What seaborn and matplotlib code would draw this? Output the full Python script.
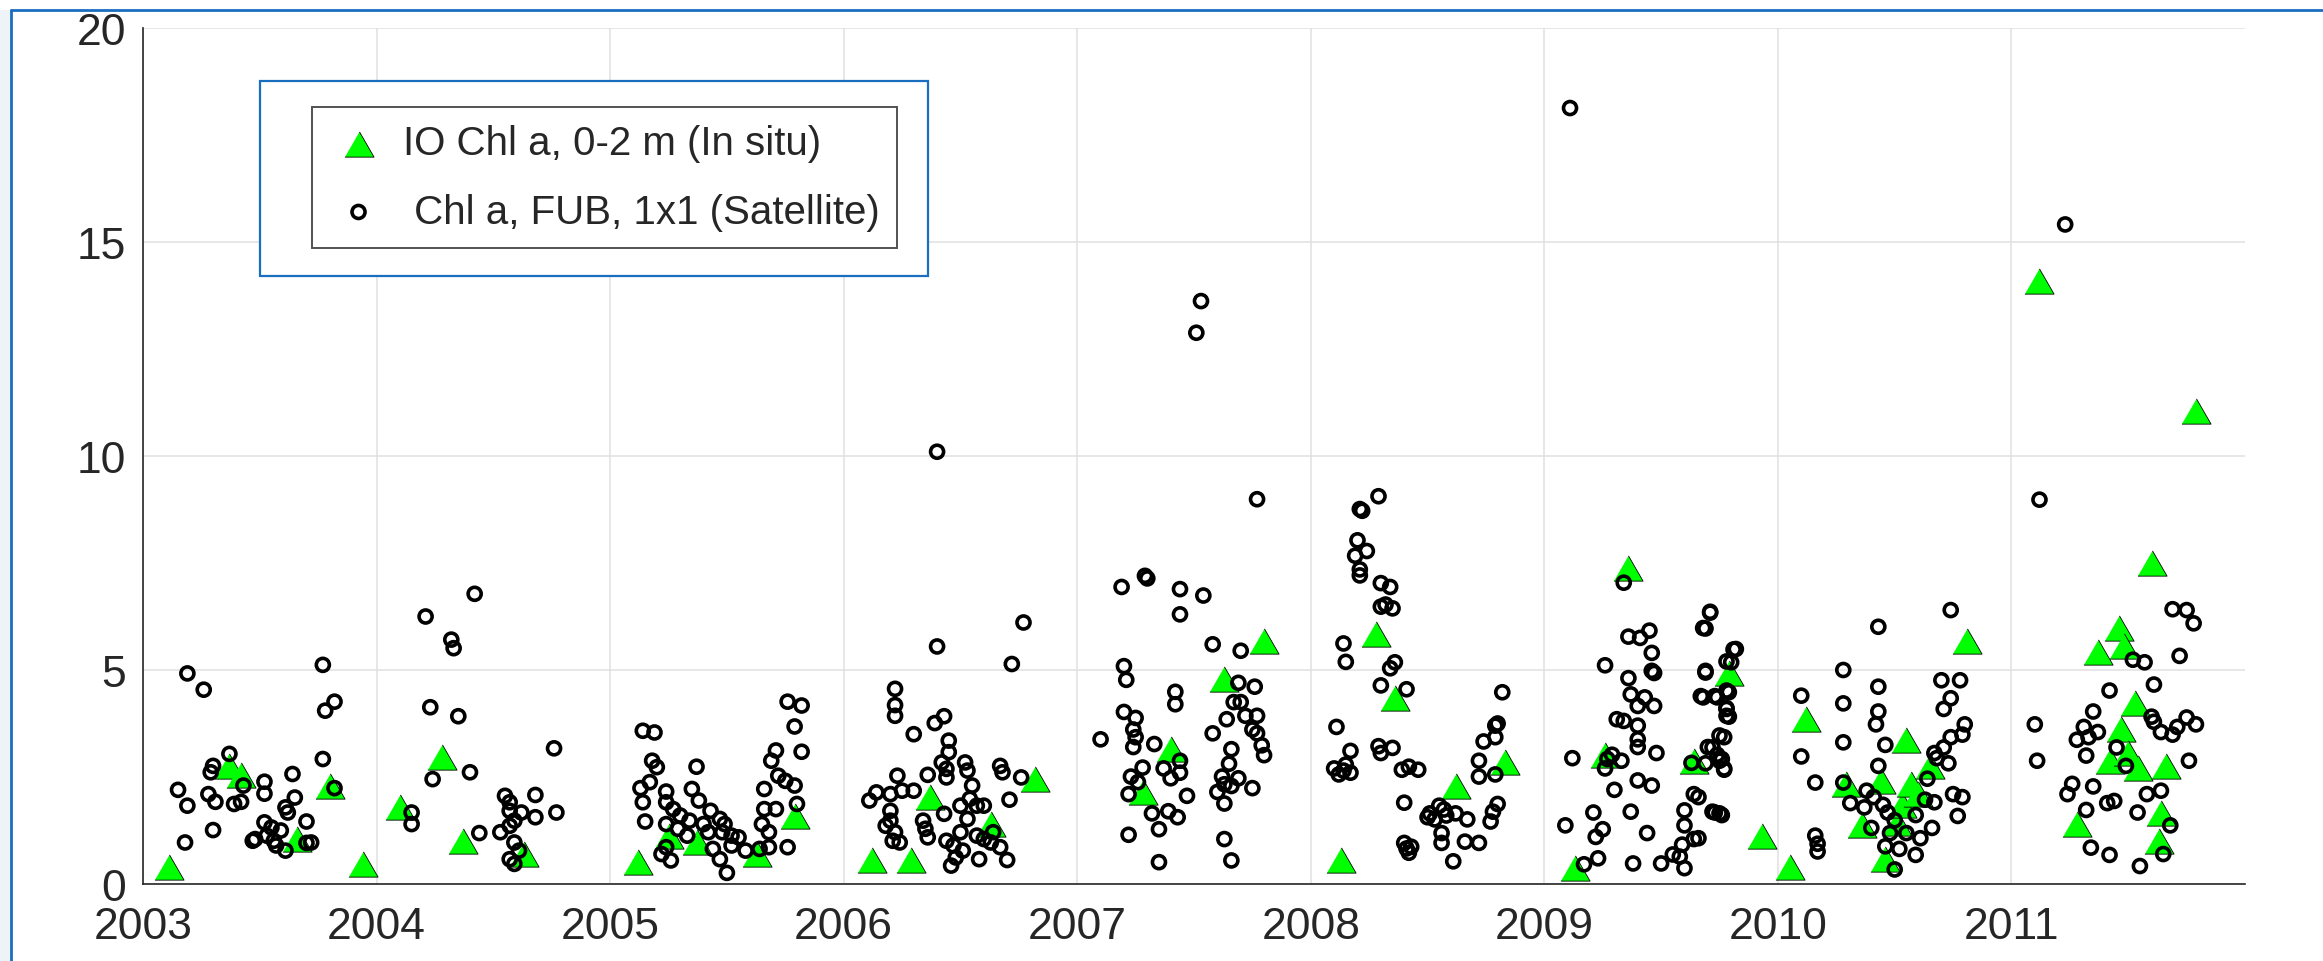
import pandas as pd
import seaborn as sns
import matplotlib.pyplot as plt
from matplotlib.patches import Rectangle
from matplotlib.lines import Line2D

# ---- datos: Chl a in situ (triangulos) ----
insitu_year = [2003.11, 2003.37, 2003.42, 2003.66, 2003.80, 2003.94,
               2004.10, 2004.28, 2004.37, 2004.63,
               2005.12, 2005.25, 2005.37, 2005.63, 2005.79,
               2006.12, 2006.29, 2006.37, 2006.63, 2006.82,
               2007.28, 2007.40, 2007.63, 2007.80,
               2008.13, 2008.28, 2008.36, 2008.62, 2008.83,
               2009.13, 2009.26, 2009.36, 2009.64, 2009.79, 2009.93,
               2010.05, 2010.12, 2010.29, 2010.36, 2010.44, 2010.46, 2010.51,
               2010.53, 2010.55, 2010.57, 2010.60, 2010.65, 2010.81,
               2011.12, 2011.28, 2011.37, 2011.42, 2011.46, 2011.47, 2011.48,
               2011.50, 2011.53, 2011.54, 2011.60, 2011.63, 2011.64, 2011.66,
               2011.79]
insitu_chl = [0.39, 2.76, 2.55, 1.05, 2.30, 0.47,
              1.79, 2.96, 1.00, 0.70,
              0.51, 1.13, 0.97, 0.70, 1.60,
              0.55, 0.55, 2.04, 1.40, 2.45,
              2.15, 3.15, 4.79, 5.68,
              0.55, 5.84, 4.34, 2.29, 2.85,
              0.37, 3.01, 7.39, 2.88, 4.93, 1.13,
              0.40, 3.85, 2.34, 1.37, 2.40, 0.58, 1.43,
              1.85, 3.37, 2.34, 2.10, 2.76, 5.67,
              14.09, 1.41, 5.43, 2.88, 5.97, 3.61, 5.57,
              3.06, 4.22, 2.70, 7.49, 1.01, 1.67, 2.76,
              11.06]

# ---- datos: Chl a satelite FUB (circulos) ----
sat_year = [
    # 2003
    2003.19, 2003.26, 2003.15, 2003.19, 2003.18, 2003.30, 2003.28, 2003.31, 2003.29,
    2003.30, 2003.37, 2003.43, 2003.39, 2003.42, 2003.52, 2003.52, 2003.64, 2003.65,
    2003.61, 2003.62, 2003.70, 2003.52, 2003.55, 2003.59, 2003.48, 2003.53, 2003.57,
    2003.61, 2003.47, 2003.56, 2003.72, 2003.70, 2003.77, 2003.82, 2003.78, 2003.77,
    2003.82,
    # 2004
    2004.21, 2004.32, 2004.33, 2004.42, 2004.23, 2004.35, 2004.24, 2004.15, 2004.15,
    2004.40, 2004.44, 2004.76, 2004.77, 2004.68, 2004.68, 2004.55, 2004.57, 2004.57,
    2004.62, 2004.59, 2004.57, 2004.53, 2004.59, 2004.61, 2004.57, 2004.59,
    # 2005
    2005.14, 2005.19, 2005.18, 2005.20, 2005.17, 2005.13, 2005.14, 2005.15, 2005.24,
    2005.24, 2005.27, 2005.37, 2005.35, 2005.38, 2005.30, 2005.34, 2005.24, 2005.29,
    2005.33, 2005.43, 2005.47, 2005.49, 2005.40, 2005.42, 2005.48, 2005.52, 2005.55,
    2005.24, 2005.22, 2005.26, 2005.44, 2005.47, 2005.50, 2005.52, 2005.58, 2005.64,
    2005.68, 2005.76, 2005.66, 2005.66, 2005.65, 2005.69, 2005.71, 2005.72, 2005.75,
    2005.76, 2005.82, 2005.79, 2005.82, 2005.79, 2005.80, 2005.71, 2005.68,
    # 2006
    2006.22, 2006.22, 2006.22, 2006.30, 2006.39, 2006.43, 2006.40, 2006.40, 2006.77,
    2006.72, 2006.14, 2006.11, 2006.20, 2006.23, 2006.25, 2006.30, 2006.36, 2006.45,
    2006.45, 2006.42, 2006.44, 2006.44, 2006.52, 2006.53, 2006.55, 2006.54, 2006.50,
    2006.57, 2006.60, 2006.67, 2006.68, 2006.76, 2006.71, 2006.43, 2006.20, 2006.20,
    2006.18, 2006.22, 2006.21, 2006.24, 2006.34, 2006.35, 2006.36, 2006.44, 2006.47,
    2006.50, 2006.53, 2006.57, 2006.60, 2006.63, 2006.64, 2006.51, 2006.48, 2006.46,
    2006.58, 2006.67, 2006.70,
    # 2007
    2007.19, 2007.29, 2007.30, 2007.44, 2007.54, 2007.44, 2007.58, 2007.70, 2007.77,
    2007.53, 2007.51, 2007.20, 2007.21, 2007.20, 2007.25, 2007.24, 2007.25, 2007.24,
    2007.33, 2007.10, 2007.28, 2007.23, 2007.26, 2007.22, 2007.22, 2007.32, 2007.35,
    2007.35, 2007.37, 2007.40, 2007.43, 2007.39, 2007.44, 2007.44, 2007.42, 2007.42,
    2007.47, 2007.58, 2007.64, 2007.69, 2007.67, 2007.70, 2007.72, 2007.76, 2007.77,
    2007.77, 2007.79, 2007.80, 2007.75, 2007.66, 2007.65, 2007.62, 2007.60, 2007.63,
    2007.63, 2007.69, 2007.66, 2007.75, 2007.63, 2007.66,
    # 2008
    2008.29, 2008.21, 2008.22, 2008.20, 2008.24, 2008.19, 2008.21, 2008.21, 2008.30,
    2008.34, 2008.30, 2008.35, 2008.32, 2008.14, 2008.15, 2008.11, 2008.34, 2008.36,
    2008.30, 2008.41, 2008.17, 2008.10, 2008.14, 2008.17, 2008.12, 2008.15, 2008.29,
    2008.30, 2008.35, 2008.39, 2008.42, 2008.46, 2008.40, 2008.40, 2008.41, 2008.42,
    2008.43, 2008.50, 2008.51, 2008.53, 2008.55, 2008.57, 2008.58, 2008.62, 2008.56,
    2008.56, 2008.61, 2008.66, 2008.67, 2008.72, 2008.77, 2008.78, 2008.80, 2008.72,
    2008.72, 2008.74, 2008.79, 2008.79, 2008.79, 2008.80, 2008.82,
    # 2009
    2009.11, 2009.12, 2009.09, 2009.17, 2009.21, 2009.23, 2009.22, 2009.25, 2009.26,
    2009.34, 2009.36, 2009.41, 2009.45, 2009.46, 2009.46, 2009.47, 2009.36, 2009.37,
    2009.43, 2009.47, 2009.40, 2009.31, 2009.34, 2009.40, 2009.40, 2009.40, 2009.29,
    2009.27, 2009.33, 2009.26, 2009.48, 2009.30, 2009.40, 2009.46, 2009.37, 2009.44,
    2009.38, 2009.50, 2009.55, 2009.60, 2009.59, 2009.60, 2009.60, 2009.64, 2009.64,
    2009.58, 2009.63, 2009.67, 2009.69, 2009.68, 2009.71, 2009.72, 2009.75, 2009.73,
    2009.75, 2009.78, 2009.78, 2009.78, 2009.78, 2009.81, 2009.76, 2009.77, 2009.70,
    2009.74, 2009.71, 2009.69, 2009.69, 2009.68, 2009.74, 2009.79, 2009.82, 2009.80,
    2009.78, 2009.79, 2009.77, 2009.72, 2009.75, 2009.77, 2009.69, 2009.73, 2009.76,
    2009.66, 2009.66,
    # 2010
    2010.10, 2010.10, 2010.16, 2010.16, 2010.17, 2010.17, 2010.28, 2010.28, 2010.28,
    2010.28, 2010.31, 2010.43, 2010.43, 2010.43, 2010.42, 2010.46, 2010.43, 2010.38,
    2010.41, 2010.37, 2010.40, 2010.45, 2010.47, 2010.50, 2010.48, 2010.50, 2010.46,
    2010.52, 2010.55, 2010.59, 2010.61, 2010.59, 2010.63, 2010.66, 2010.67, 2010.64,
    2010.67, 2010.68, 2010.71, 2010.73, 2010.74, 2010.79, 2010.80, 2010.71, 2010.74,
    2010.70, 2010.78, 2010.74, 2010.75, 2010.79, 2010.77,
    # 2011
    2011.23, 2011.12, 2011.10, 2011.11, 2011.24, 2011.26, 2011.35, 2011.32, 2011.31,
    2011.28, 2011.33, 2011.37, 2011.42, 2011.45, 2011.35, 2011.32, 2011.41, 2011.44,
    2011.34, 2011.42, 2011.55, 2011.65, 2011.68, 2011.58, 2011.64, 2011.54, 2011.49,
    2011.52, 2011.57, 2011.61, 2011.60, 2011.61, 2011.64, 2011.69, 2011.71, 2011.69,
    2011.75, 2011.78, 2011.72, 2011.75, 2011.79, 2011.76,
]
sat_chl = [
    # 2003
    4.92, 4.54, 2.20, 1.83, 0.97, 1.26, 2.10, 1.92, 2.61,
    2.76, 3.04, 2.30, 1.87, 1.92, 2.39, 2.11, 2.57, 2.02,
    1.79, 1.67, 1.46, 1.44, 1.32, 1.25, 1.05, 1.13, 0.90,
    0.78, 1.01, 1.01, 0.97, 0.96, 5.12, 4.26, 4.05, 2.92,
    2.24,
    # 2004
    6.25, 5.71, 5.51, 6.78, 4.13, 3.92, 2.45, 1.67, 1.40,
    2.61, 1.19, 3.17, 1.67, 2.08, 1.56, 2.06, 1.91, 1.71,
    1.67, 1.48, 1.36, 1.21, 0.97, 0.78, 0.58, 0.47,
    # 2005
    3.58, 3.54, 2.88, 2.73, 2.38, 2.24, 1.91, 1.46, 2.16,
    1.91, 1.75, 2.74, 2.22, 1.95, 1.60, 1.48, 1.40, 1.29,
    1.13, 1.71, 1.52, 1.40, 1.40, 1.21, 1.21, 1.13, 1.09,
    0.86, 0.70, 0.55, 0.82, 0.58, 0.26, 0.90, 0.78, 0.82,
    0.86, 0.86, 2.22, 1.75, 1.40, 2.88, 3.12, 2.53, 2.41,
    4.26, 4.17, 3.68, 3.09, 2.30, 1.87, 1.75, 1.21,
    # 2006
    4.56, 4.18, 3.93, 3.50, 3.76, 3.92, 5.55, 10.10, 6.11,
    5.14, 2.14, 1.95, 2.10, 2.53, 2.18, 2.18, 2.55, 3.35,
    3.08, 2.84, 2.69, 2.49, 2.84, 2.65, 2.30, 1.99, 1.83,
    1.83, 1.83, 2.76, 2.61, 2.49, 1.97, 1.64, 1.71, 1.48,
    1.36, 1.21, 1.01, 0.97, 1.48, 1.29, 1.09, 1.01, 0.90,
    1.21, 1.52, 1.13, 1.05, 0.97, 1.21, 0.78, 0.62, 0.43,
    0.58, 0.86, 0.56,
    # 2007
    6.94, 7.20, 7.14, 6.89, 6.74, 6.30, 5.60, 5.45, 8.99,
    13.62, 12.88, 5.09, 4.77, 4.02, 3.88, 3.61, 3.43, 3.20,
    3.27, 3.38, 2.72, 2.51, 2.38, 2.10, 1.15, 1.65, 1.28,
    0.51, 2.70, 2.47, 1.56, 1.70, 2.88, 2.60, 4.49, 4.20,
    2.06, 3.52, 3.85, 4.70, 4.25, 4.25, 3.93, 4.61, 3.93,
    3.52, 3.24, 3.01, 3.61, 3.15, 2.81, 2.51, 2.15, 2.33,
    1.88, 2.47, 2.29, 2.24, 1.05, 0.55,
    # 2008
    9.06, 8.76, 8.72, 8.03, 7.78, 7.67, 7.35, 7.21, 7.03,
    6.94, 6.48, 6.44, 6.53, 5.62, 5.19, 3.67, 5.04, 5.18,
    4.64, 4.55, 3.11, 2.70, 2.65, 2.60, 2.56, 2.79, 3.22,
    3.06, 3.18, 2.67, 2.74, 2.67, 1.90, 0.96, 0.83, 0.73,
    0.87, 1.56, 1.65, 1.51, 1.83, 1.74, 1.60, 1.65, 1.19,
    0.96, 0.53, 0.99, 1.51, 0.96, 1.46, 1.69, 1.87, 2.88,
    2.51, 3.33, 3.43, 2.56, 3.70, 3.75, 4.48,
    # 2009
    18.13, 2.94, 1.37, 0.46, 1.67, 0.60, 1.10, 1.28, 5.11,
    7.04, 5.78, 5.75, 5.92, 5.40, 4.98, 4.93, 4.81, 4.43,
    4.36, 4.16, 4.16, 3.85, 3.81, 3.70, 3.38, 3.20, 3.02,
    2.92, 2.88, 2.70, 3.06, 2.20, 2.42, 2.30, 1.69, 1.19,
    0.48, 0.48, 0.69, 0.37, 0.92, 1.37, 1.72, 2.10, 1.05,
    0.64, 2.83, 4.39, 4.98, 5.98, 6.34, 1.69, 1.65, 4.39,
    3.47, 4.52, 4.11, 3.93, 5.20, 5.48, 2.92, 2.67, 3.20,
    3.02, 6.36, 5.97, 4.94, 4.36, 4.36, 4.48, 5.49, 5.18,
    4.09, 3.91, 3.43, 3.19, 2.88, 2.70, 2.82, 1.67, 1.61,
    2.03, 1.07,
    # 2010
    4.40, 2.98, 2.37, 1.13, 0.94, 0.76, 5.00, 4.22, 3.31,
    2.37, 1.89, 6.01, 4.61, 4.03, 3.73, 3.25, 2.76, 2.18,
    2.03, 1.79, 1.31, 1.85, 1.67, 1.49, 1.19, 0.34, 0.88,
    0.82, 1.19, 0.68, 1.07, 1.61, 1.97, 1.31, 1.91, 2.46,
    3.06, 2.94, 3.19, 2.82, 3.43, 3.49, 3.73, 4.09, 4.34,
    4.76, 4.76, 6.40, 2.10, 2.03, 1.59,
    # 2011
    15.41, 8.98, 3.73, 2.88, 2.10, 2.34, 4.03, 3.00, 3.67,
    3.37, 3.43, 3.55, 4.52, 3.19, 2.28, 1.73, 1.89, 1.94,
    0.85, 0.68, 0.42, 0.70, 1.37, 2.10, 2.18, 1.67, 2.76,
    5.24, 5.18, 4.66, 3.91, 3.79, 3.55, 3.49, 3.67, 6.42,
    6.40, 6.09, 5.33, 3.89, 3.73, 2.88,
]

x_ticks = list(range(2003, 2012))
y_ticks = [0, 5, 10, 15, 20]
label_insitu = "IO Chl a, 0-2 m (In situ)"
label_sat = " Chl a, FUB, 1x1 (Satellite)"

df_insitu = pd.DataFrame({"year": insitu_year, "chl": insitu_chl})
df_sat = pd.DataFrame({"year": sat_year, "chl": sat_chl})

sns.set_style("white")
plt.rcParams["font.family"] = ["Liberation Sans", "DejaVu Sans"]

W, H = 2323, 962
fig = plt.figure(figsize=(W / 100, H / 100), dpi=100)
ax = fig.add_axes([143 / W, 1 - 885 / H, (2245 - 143) / W, (885 - 29) / H])

azul = "#1a6ec0"
gris = "#262626"

# triangulo equilatero centrado en su caja
tri = [(-1, -0.866), (1, -0.866), (0, 0.866)]
sns.scatterplot(data=df_insitu, x="year", y="chl", marker=tri, s=441,
                color="#00ff00", edgecolor="black", linewidth=0.6,
                label=label_insitu, ax=ax, zorder=2)
sns.scatterplot(data=df_sat, x="year", y="chl", marker="o", s=88,
                facecolor="none", edgecolor="black", linewidth=2.6,
                label=label_sat, ax=ax, zorder=3)

ax.set_xlim(2003, 2012)
ax.set_ylim(0, 20)
ax.set_xticks(x_ticks)
ax.set_xticklabels([str(a) for a in x_ticks])
ax.set_yticks(y_ticks)
ax.set_yticklabels([str(v) for v in y_ticks])
ax.set_xlabel("")
ax.set_ylabel("")
ax.tick_params(direction="in", length=13.5, width=0.9, colors=gris, labelsize=32)
ax.tick_params(axis="x", pad=16)
ax.tick_params(axis="y", pad=12)
ax.grid(True, color="#e0e0e0", linewidth=1.1)
ax.set_axisbelow(True)
for lado in ["top", "right"]:
    ax.spines[lado].set_visible(False)
for lado in ["left", "bottom"]:
    ax.spines[lado].set_color(gris)
    ax.spines[lado].set_linewidth(1.2)

# recuadro azul detras de la leyenda
caja = Rectangle((260 / W, 1 - 277 / H), (928 - 260) / W, (277 - 82) / H,
                 transform=fig.transFigure, facecolor="white", edgecolor=azul,
                 linewidth=1.6, zorder=4.5)
ax.add_artist(caja)

leg = ax.legend(loc="upper left", bbox_to_anchor=(312 / W, 1 - 108 / H),
                bbox_transform=fig.transFigure, borderaxespad=0, frameon=True,
                fancybox=False, fontsize=29, borderpad=0.43, labelspacing=0.75,
                handlelength=1.45, handletextpad=0.375, scatterpoints=1)
leg.get_frame().set_edgecolor(gris)
leg.get_frame().set_linewidth(1.4)
leg.set_zorder(6)

# marco azul exterior (recortado)
fig.add_artist(Rectangle((0, 0), 11 / W, 1 - 11 / H, transform=fig.transFigure,
                         facecolor="#eef3f8", edgecolor="none"))
fig.add_artist(Line2D([11 / W, 11 / W], [0, 1 - 11 / H], transform=fig.transFigure,
                      color=azul, linewidth=2))
fig.add_artist(Line2D([11 / W, 1], [1 - 11 / H, 1 - 11 / H], transform=fig.transFigure,
                      color=azul, linewidth=2))

fig.savefig("out.png", dpi=100)
